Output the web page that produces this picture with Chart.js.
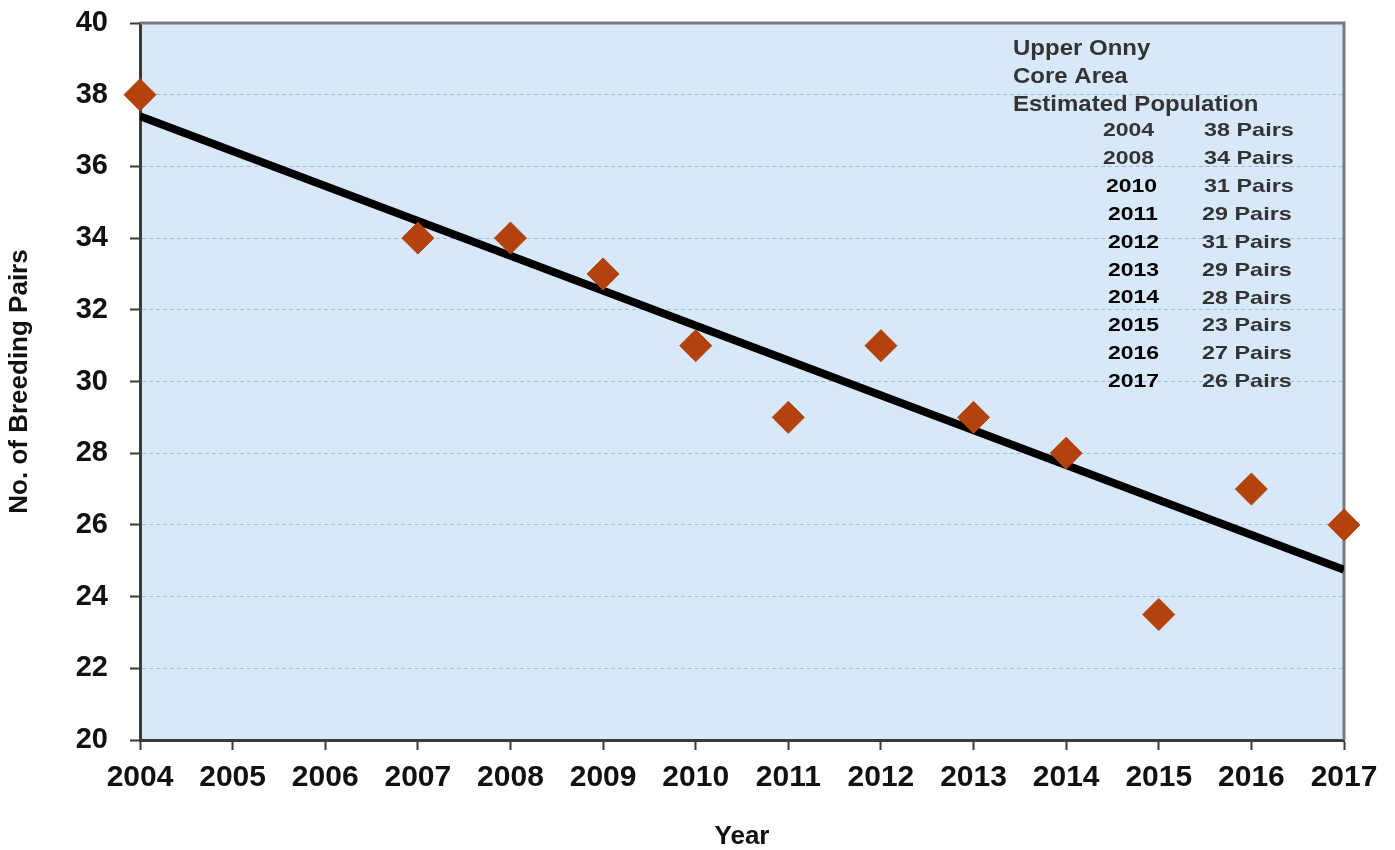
<!DOCTYPE html>
<html>
<head>
<meta charset="utf-8">
<script src="https://cdn.jsdelivr.net/npm/chart.js@4/dist/chart.umd.min.js"></script>
<style>
  html, body { margin: 0; padding: 0; background: #ffffff; }
  #wrap { width: 1395px; height: 850px; position: relative; }
</style>
</head>
<body>
<div id="wrap"><canvas id="c" width="1395" height="850"></canvas></div>
<script>
// ---- data ----
const years = [2004, 2007, 2008, 2009, 2010, 2011, 2012, 2013, 2014, 2015, 2016, 2017];
const pairs = [38, 34, 34, 33, 31, 29, 31, 29, 28, 23.5, 27, 26];
const trendYears = [2004, 2017];
const trendValues = [37.4, 24.75];
const noteHeader = ["Upper Onny", "Core Area", "Estimated Population"];
const noteYears = ["2004", "2008", "2010", "2011", "2012", "2013", "2014", "2015", "2016", "2017"];
const notePairs = ["38 Pairs", "34 Pairs", "31 Pairs", "29 Pairs", "31 Pairs", "29 Pairs", "28 Pairs", "23 Pairs", "27 Pairs", "26 Pairs"];
const yAxisTitle = "No. of Breeding Pairs";
const xAxisTitle = "Year";

const FONT = "'Liberation Sans', Arial, sans-serif";

const panelPlugin = {
  id: 'panel',
  beforeDraw(chart) {
    const { ctx, chartArea: a } = chart;
    ctx.save();
    ctx.fillStyle = '#d7e8f8';
    ctx.fillRect(a.left, a.top, a.right - a.left, a.bottom - a.top);
    ctx.restore();
  },
  beforeDatasetsDraw(chart) {
    const { ctx, chartArea: a } = chart;
    ctx.save();
    ctx.strokeStyle = '#7a7a7a';
    ctx.lineWidth = 3;
    ctx.beginPath();
    ctx.moveTo(a.left, a.top);
    ctx.lineTo(a.right, a.top);
    ctx.lineTo(a.right, a.bottom);
    ctx.stroke();
    ctx.restore();
  },
  afterDraw(chart) {
    const { ctx } = chart;
    ctx.save();
    ctx.textBaseline = 'middle';
    ctx.textAlign = 'left';
    const draw = (t, x, y, size, color, sy) => {
      ctx.save();
      ctx.translate(x, y);
      ctx.scale(1, sy);
      ctx.font = 'bold ' + size + 'px ' + FONT;
      ctx.fillStyle = color;
      ctx.fillText(t, 0, 0);
      ctx.restore();
    };
    noteHeader.forEach((t, i) => draw(t, 1013, 49 + i * 28, 24, '#333333', 0.92));
    noteYears.forEach((t, i) => {
      const x = i < 2 ? 1103 : (i === 2 ? 1106 : 1108);
      const col = i < 2 ? '#333333' : '#000000';
      draw(t, x, 131 + i * 27.9, 23, col, 0.8);
    });
    notePairs.forEach((t, i) => {
      const x = i < 3 ? 1204 : 1202;
      draw(t, x, 131 + i * 27.9, 23.4, '#333333', 0.8);
    });
    ctx.restore();
  }
};

new Chart(document.getElementById('c'), {
  data: {
    datasets: [
      {
        type: 'scatter',
        label: 'Breeding pairs',
        data: years.map((y, i) => ({ x: y, y: pairs[i] })),
        pointStyle: 'rectRot',
        pointRadius: 16,
        pointHoverRadius: 16,
        backgroundColor: '#b3420c',
        borderColor: '#b3420c',
        borderWidth: 1,
        clip: false,
        order: 0
      },
      {
        type: 'line',
        label: 'Trend',
        data: trendYears.map((y, i) => ({ x: y, y: trendValues[i] })),
        borderColor: '#000000',
        borderWidth: 8,
        pointRadius: 0,
        fill: false,
        tension: 0,
        order: 1
      }
    ]
  },
  options: {
    responsive: false,
    animation: false,
    layout: { padding: { top: 23, right: 51, left: 0, bottom: 0 } },
    plugins: {
      legend: { display: false },
      tooltip: { enabled: false },
      title: { display: false }
    },
    scales: {
      x: {
        type: 'linear',
        min: 2004,
        max: 2017,
        afterFit(s) { s.height = 110; s.paddingLeft = 0; s.paddingRight = 0; },
        ticks: {
          stepSize: 1,
          maxTicksLimit: 30,
          autoSkip: false,
          maxRotation: 0,
          padding: 10,
          color: '#111111',
          font: { family: FONT, size: 30, weight: 'bold' },
          callback: v => String(v)
        },
        grid: {
          drawOnChartArea: false,
          drawTicks: true,
          tickLength: 10,
          tickColor: '#3a3a3a',
          tickWidth: 2
        },
        border: { display: true, color: '#3a3a3a', width: 3 },
        title: {
          display: true,
          text: xAxisTitle,
          color: '#111111',
          font: { family: FONT, size: 26, weight: 'bold', lineHeight: 1 },
          padding: { top: 0, bottom: 0 }
        }
      },
      y: {
        type: 'linear',
        min: 20,
        max: 40,
        afterFit(s) { s.width = 140; s.paddingTop = 0; s.paddingBottom = 0; },
        ticks: {
          stepSize: 2,
          padding: 22,
          color: '#111111',
          font: { family: FONT, size: 29, weight: 'bold' }
        },
        grid: {
          color: '#9fbde6',
          lineWidth: 1,
          tickBorderDash: [],
          drawTicks: true,
          tickLength: 10,
          tickColor: '#3a3a3a',
          tickWidth: 2
        },
        border: { display: true, color: '#3a3a3a', width: 3, dash: [4, 3] },
        title: {
          display: true,
          text: yAxisTitle,
          color: '#111111',
          font: { family: FONT, size: 26, weight: 'bold', lineHeight: 1 },
          padding: { top: 7, bottom: 0 }
        }
      }
    }
  },
  plugins: [panelPlugin]
});
</script>
</body>
</html>
